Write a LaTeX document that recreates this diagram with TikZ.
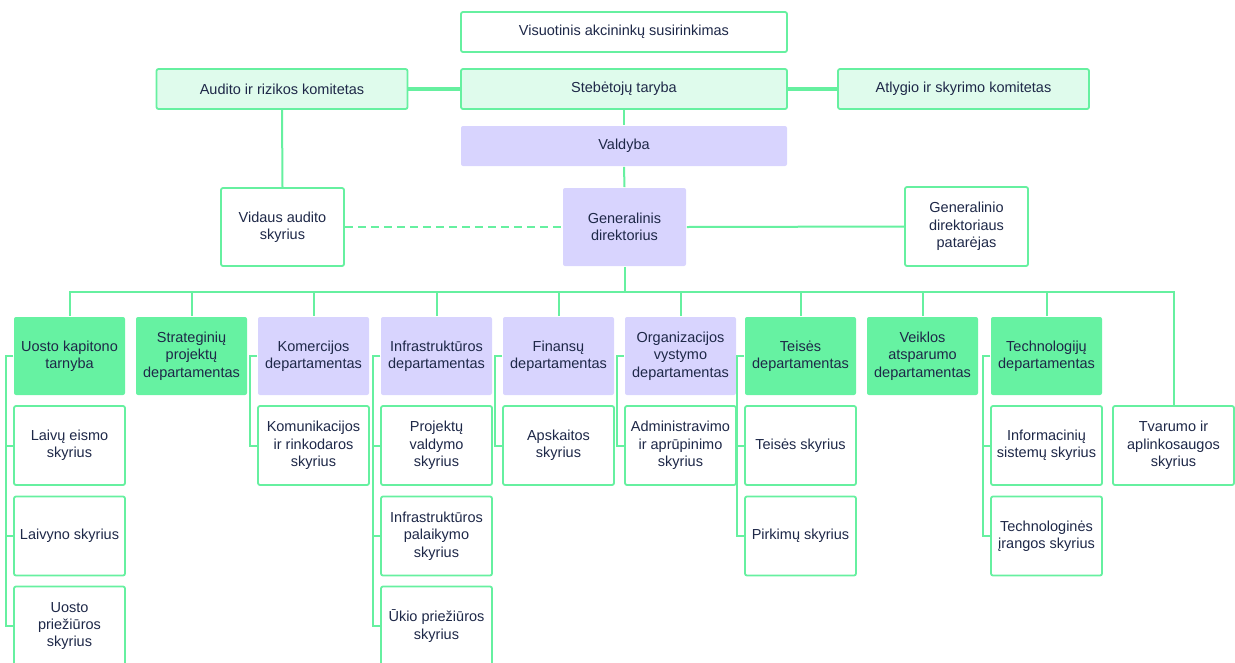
\documentclass[tikz,border=0pt]{standalone}
\usepackage{fontspec}
\setmainfont{Liberation Sans}
\usepackage{tikz}
\usetikzlibrary{positioning}
\definecolor{lineGreen}{RGB}{102,240,160}
\definecolor{mintGreen}{RGB}{102,242,162}
\definecolor{paleGreen}{RGB}{223,251,236}
\definecolor{lavender}{RGB}{216,212,254}
\definecolor{textNavy}{RGB}{30,40,72}
\tikzstyle{chart} = [x = 1pt, y = -1pt]
\tikzstyle{orgBox} = [draw=lineGreen, line width=1.8pt, rounded corners=2pt, fill=white, text=textNavy, align=center, inner sep=0pt, font=\fontsize{14.5}{17.3}\selectfont]
\tikzstyle{committeeBox} = [orgBox, fill=paleGreen, minimum width=251pt, minimum height=40pt]
\tikzstyle{topBox} = [orgBox, minimum width=326pt, minimum height=40pt]
\tikzstyle{boardBox} = [orgBox, draw=none, fill=lavender, minimum width=326pt, minimum height=40pt]
\tikzstyle{officeBox} = [orgBox, minimum width=123pt, minimum height=78pt]
\tikzstyle{deptGreen} = [orgBox, draw=none, fill=mintGreen, minimum width=111pt, minimum height=78pt]
\tikzstyle{deptPurple} = [orgBox, draw=none, fill=lavender, minimum width=111pt, minimum height=78pt]
\tikzstyle{unitBox} = [orgBox, minimum width=111pt, minimum height=79pt]
\tikzstyle{branchLine} = [color=lineGreen, line width=2pt]
\tikzstyle{thickLine} = [color=lineGreen, line width=4pt]
\tikzstyle{dashLine} = [branchLine, dash pattern=on 8pt off 5pt]
\newcommand{\bracketGap}{7}
\newcommand{\deptBox}[4]{\node [#1] (#2) at (#3, 356) {#4};}
\newcommand{\unitRow}[4]{\node [unitBox] (#1) at (#2, #3) {#4};}
\newcommand{\hangUnit}[2]{\draw [branchLine] (#1.west) -- ++(-\bracketGap,0) |- (#2.west);}
\newcommand{\toBus}[1]{\draw [branchLine] (#1.north) |- (busTop);}

\begin{document}
\begin{tikzpicture}[chart]
  \useasboundingbox (0,0) rectangle (1235,662);

  % governance
  \node [topBox] (meeting) at (624, 32) {Visuotinis akcininkų susirinkimas};
  \node [committeeBox] (auditCommittee) at (282, 89) {Audito ir rizikos komitetas};
  \node [topBox, fill=paleGreen] (council) at (624, 89) {Stebėtojų taryba};
  \node [committeeBox] (rewardCommittee) at (963.5, 89) {Atlygio ir skyrimo komitetas};
  \node [boardBox] (board) at (624, 146) {Valdyba};
  \node [officeBox] (internalAudit) at (282.5, 227) {Vidaus audito\\skyrius};
  \node [officeBox, draw=none, fill=lavender] (ceo) at (624.5, 227) {Generalinis\\direktorius};
  \node [officeBox, minimum height=79pt] (advisor) at (966.5, 226.5) {Generalinio\\direktoriaus\\patarėjas};

  \draw [thickLine] (auditCommittee.east) -- (council.west);
  \draw [thickLine] (council.east) -- (rewardCommittee.west);
  \draw [branchLine] (council.south) -- (board.north);
  \draw [branchLine] (auditCommittee.south) -- (internalAudit.north);
  \draw [branchLine] (board.south) -- (ceo.north);
  \draw [dashLine] (internalAudit.east) -- (ceo.west);
  \draw [branchLine] (ceo.east) -- (advisor.west);

  % departments
  \coordinate (busTop) at (624.5, 292);
  \draw [branchLine] (ceo.south) -- (busTop);
  \deptBox{deptGreen}{harbour}{69.5}{Uosto kapitono\\tarnyba}
  \deptBox{deptGreen}{strategy}{191.5}{Strateginių\\projektų\\departamentas}
  \deptBox{deptPurple}{commerce}{313.5}{Komercijos\\departamentas}
  \deptBox{deptPurple}{infra}{436.5}{Infrastruktūros\\departamentas}
  \deptBox{deptPurple}{finance}{558.5}{Finansų\\departamentas}
  \deptBox{deptPurple}{organisation}{680.5}{Organizacijos\\vystymo\\departamentas}
  \deptBox{deptGreen}{legal}{800.5}{Teisės\\departamentas}
  \deptBox{deptGreen}{resilience}{922.5}{Veiklos\\atsparumo\\departamentas}
  \deptBox{deptGreen}{technology}{1046.5}{Technologijų\\departamentas}
  \node [unitBox, minimum width=121pt] (sustain) at (1173.5, 445.5) {Tvarumo ir\\aplinkosaugos\\skyrius};
  \foreach \dept in {harbour, strategy, commerce, infra, finance, organisation, legal, resilience, technology, sustain} {
    \toBus{\dept}
  }

  % units
  \unitRow{traffic}{69.5}{445.5}{Laivų eismo\\skyrius}
  \unitRow{fleet}{69.5}{536}{Laivyno skyrius}
  \unitRow{upkeep}{69.5}{626}{Uosto\\priežiūros\\skyrius}
  \unitRow{marketing}{313.5}{445.5}{Komunikacijos\\ir rinkodaros\\skyrius}
  \unitRow{projects}{436.5}{445.5}{Projektų\\valdymo\\skyrius}
  \unitRow{maintenance}{436.5}{536}{Infrastruktūros\\palaikymo\\skyrius}
  \unitRow{facilities}{436.5}{626}{Ūkio priežiūros\\skyrius}
  \unitRow{accounting}{558.5}{445.5}{Apskaitos\\skyrius}
  \unitRow{admin}{680.5}{445.5}{Administravimo\\ir aprūpinimo\\skyrius}
  \unitRow{law}{800.5}{445.5}{Teisės skyrius}
  \unitRow{purchasing}{800.5}{536}{Pirkimų skyrius}
  \unitRow{systems}{1046.5}{445.5}{Informacinių\\sistemų skyrius}
  \unitRow{equipment}{1046.5}{536}{Technologinės\\įrangos skyrius}

  \hangUnit{harbour}{traffic}
  \hangUnit{harbour}{fleet}
  \hangUnit{harbour}{upkeep}
  \hangUnit{commerce}{marketing}
  \hangUnit{infra}{projects}
  \hangUnit{infra}{maintenance}
  \hangUnit{infra}{facilities}
  \hangUnit{finance}{accounting}
  \hangUnit{organisation}{admin}
  \hangUnit{legal}{law}
  \hangUnit{legal}{purchasing}
  \hangUnit{technology}{systems}
  \hangUnit{technology}{equipment}
\end{tikzpicture}
\end{document}
